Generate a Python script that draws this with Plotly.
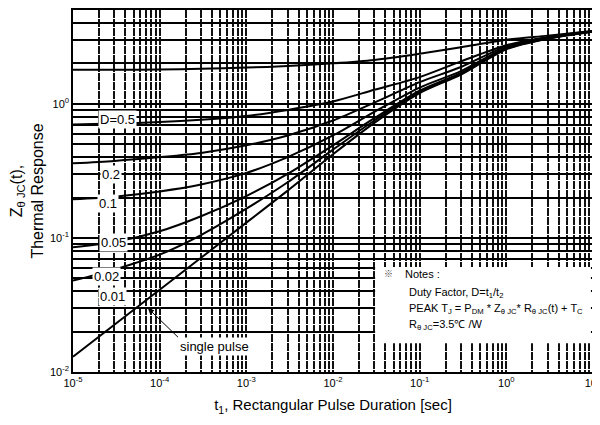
import plotly.graph_objects as go
import numpy as np

# ---- data ----
t_sec = [1e-5, 3e-5, 1e-4, 3e-4, 1e-3, 3e-3, 1e-2, 3e-2, 1e-1, 3e-1, 1, 3, 10]

z_d05 = [1.79, 1.79, 1.80, 1.82, 1.86, 1.91, 2.00, 2.12, 2.36, 2.64, 3.00, 3.22, 3.50]
z_d02 = [0.70, 0.712, 0.73, 0.76, 0.81, 0.90, 1.04, 1.27, 1.58, 2.07, 2.73, 3.15, 3.48]
z_d01 = [0.36, 0.375, 0.40, 0.43, 0.49, 0.58, 0.75, 1.02, 1.45, 1.88, 2.68, 3.12, 3.47]
z_d005 = [0.194, 0.203, 0.222, 0.25, 0.305, 0.40, 0.58, 0.87, 1.32, 1.75, 2.62, 3.08, 3.46]
z_d002 = [0.085, 0.093, 0.112, 0.145, 0.205, 0.30, 0.49, 0.78, 1.25, 1.70, 2.59, 3.07, 3.46]
z_d001 = [0.048, 0.058, 0.075, 0.105, 0.165, 0.26, 0.455, 0.75, 1.22, 1.67, 2.57, 3.06, 3.46]
z_single = [0.013, 0.0225, 0.041, 0.071, 0.13, 0.225, 0.42, 0.72, 1.20, 1.65, 2.55, 3.05, 3.45]

curves = [z_d05, z_d02, z_d01, z_d005, z_d002, z_d001, z_single]

x_tick_vals = [1e-5, 1e-4, 1e-3, 1e-2, 1e-1, 1, 10]
x_tick_text = ["10<sup>-5</sup>", "10<sup>-4</sup>", "10<sup>-3</sup>", "10<sup>-2</sup>",
               "10<sup>-1</sup>", "10<sup>0</sup>", "10<sup>1</sup>"]
y_tick_vals = [1e-2, 1e-1, 1]
y_tick_text = ["10<sup>-2</sup>", "10<sup>-1</sup>", "10<sup>0</sup>"]

curve_labels = ["D=0.5", "0.2", "0.1", "0.05", "0.02", "0.01"]
label_pos_log = [(-4.481, -0.119), (-4.562, -0.528), (-4.596, -0.743),
                 (-4.538, -1.033), (-4.619, -1.286), (-4.55, -1.435)]

note_lines = [
    "Duty Factor, D=t<sub>1</sub>/t<sub>2</sub>",
    "PEAK T<sub>J</sub> = P<sub>DM</sub> * Z<sub>θ JC</sub>* R<sub>θ JC</sub>(t) + T<sub>C</sub>",
    "R<sub>θ JC</sub>=3.5℃ /W",
]

FONT = "Liberation Sans, Arial, sans-serif"

fig = go.Figure()
for z in curves:
    fig.add_trace(go.Scatter(x=t_sec, y=z, mode="lines",
                             line=dict(color="black", width=2, shape="spline", smoothing=0.8),
                             showlegend=False, hoverinfo="skip"))

annotations = []
for txt, (lx, ly) in zip(curve_labels, label_pos_log):
    annotations.append(dict(x=lx, y=ly, xref="x", yref="y", text=txt, showarrow=False,
                            font=dict(family=FONT, size=13, color="black"),
                            bgcolor="white", borderpad=1))
# single pulse label with arrow from its top-left corner
annotations.append(dict(x=-4.135, y=-1.524, xref="x", yref="y", text="single pulse",
                        showarrow=True, ax=30, ay=29, axref="pixel", ayref="pixel",
                        xanchor="left", yanchor="top",
                        arrowhead=2, arrowsize=1.2, arrowwidth=1, arrowcolor="black",
                        font=dict(family=FONT, size=13, color="black"),
                        bgcolor="white", borderpad=1))

# notes
annotations.append(dict(x=0.607, y=0.271, xref="paper", yref="paper", text="※",
                        showarrow=False, xanchor="center", yanchor="middle",
                        font=dict(family="Noto Sans CJK JP", size=9, color="#444")))
annotations.append(dict(x=0.635, y=0.271, xref="paper", yref="paper", text="Notes :",
                        showarrow=False, xanchor="left", yanchor="middle",
                        font=dict(family=FONT, size=11, color="black")))
for txt, yy in zip(note_lines, [0.219, 0.175, 0.129]):
    annotations.append(dict(x=0.642, y=yy, xref="paper", yref="paper", text=txt,
                            showarrow=False, xanchor="left", yanchor="middle",
                            font=dict(family=FONT, size=11, color="black")))

# page body has an 8px margin: margins compensate so the plot lands where the reference has it
fig.update_layout(
    width=600, height=425,
    margin=dict(l=65, r=15, t=0, b=61),
    paper_bgcolor="white", plot_bgcolor="white",
    font=dict(family=FONT, size=11, color="black"),
    annotations=annotations,
    shapes=[dict(type="rect", xref="paper", yref="paper", x0=0.581, x1=0.996,
                 y0=0.0795, y1=0.290, fillcolor="white", line=dict(width=0), layer="above")],
)

fig.update_xaxes(type="log", range=[-5, 1], tickvals=x_tick_vals, ticktext=x_tick_text,
                 showgrid=True, gridcolor="#111", gridwidth=1.5, griddash="8px,1px",
                 minor=dict(dtick="D1", showgrid=True, gridcolor="#111", gridwidth=1.5,
                            griddash="8px,1px", ticks=""),
                 showline=True, linecolor="black", linewidth=1.5, mirror=True,
                 ticks="", zeroline=False,
                 tickfont=dict(family=FONT, size=11),
                 title=dict(text="t<sub>1</sub>, Rectangular Pulse Duration [sec]",
                            font=dict(family=FONT, size=15), standoff=12))
fig.update_yaxes(type="log", range=[-2, np.log10(5)], tickvals=y_tick_vals, ticktext=y_tick_text,
                 showgrid=True, gridcolor="black", gridwidth=1.5,
                 minor=dict(dtick="D1", showgrid=True, gridcolor="black", gridwidth=1.5, ticks=""),
                 showline=True, linecolor="black", linewidth=1.5, mirror=True,
                 ticks="", zeroline=False,
                 tickfont=dict(family=FONT, size=11),
                 title=dict(text="Z<sub>θ JC</sub>(t),<br>Thermal Response",
                            font=dict(family=FONT, size=16), standoff=4))

fig.write_html("out.html")
